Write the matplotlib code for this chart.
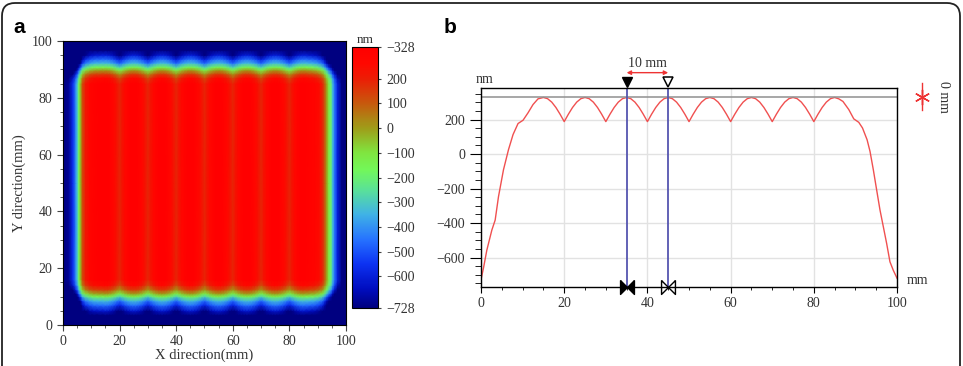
import numpy as np
import matplotlib.pyplot as plt
from matplotlib.colors import LinearSegmentedColormap
from matplotlib.ticker import MultipleLocator
from matplotlib.patches import FancyBboxPatch

plt.rcParams['font.family'] = ['Liberation Serif', 'DejaVu Serif']

# line profile along X (panel b)
profile_mm = [0, 0.6, 1.4, 2.6, 3.4, 4.2, 5.4, 6.6, 7.7, 8.9, 10.1, 11.3, 12.5, 13.7,
              15, 16, 17, 18, 19, 20, 21, 22, 23, 24,
              25, 26, 27, 28, 29, 30, 31, 32, 33, 34,
              35, 36, 37, 38, 39, 40, 41, 42, 43, 44,
              45, 46, 47, 48, 49, 50, 51, 52, 53, 54,
              55, 56, 57, 58, 59, 60, 61, 62, 63, 64,
              65, 66, 67, 68, 69, 70, 71, 72, 73, 74,
              75, 76, 77, 78, 79, 80, 81, 82, 83, 84,
              85, 86, 87, 88.4, 89.6, 90.8, 91.7, 92.8, 93.5, 94.3, 95.1, 95.9,
              96.7, 97.5, 98.3, 99.1, 100]
profile_nm = [-728, -660, -557, -441, -383, -247, -91, 25, 113, 177, 196, 239, 287, 320,
              328, 321, 301, 270, 231, 188, 231, 270, 301, 321,
              328, 321, 301, 270, 231, 188, 231, 270, 301, 321,
              328, 321, 301, 270, 231, 188, 231, 270, 301, 321,
              328, 321, 301, 270, 231, 188, 231, 270, 301, 321,
              328, 321, 301, 270, 231, 188, 231, 270, 301, 321,
              328, 321, 301, 270, 231, 188, 231, 270, 301, 321,
              328, 321, 301, 270, 231, 188, 231, 270, 301, 321,
              328, 320, 305, 258, 204, 184, 151, 83, 16, -91, -208, -324,
              -421, -518, -625, -674, -720]

# map edges along X (panel a)
map_left_mm = [0, 2, 3.5, 4.5, 5.0, 5.5, 6.0, 6.5, 7.0, 8.0, 9.5, 11, 13]
map_left_nm = [-760, -700, -560, -420, -330, -200, -80, 30, 130, 220, 280, 310, 320]
map_right_mm = [87, 89, 90.5, 91.7, 92.5, 93.2, 94.0, 94.7, 95.3, 96.0, 97.0, 98.5, 100]
map_right_nm = [310, 290, 250, 190, 100, 0, -120, -200, -330, -450, -600, -720, -760]

# height along Y through a stripe centre (panel a)
scan_y_mm = [0, 2, 3.5, 5, 7, 8.5, 10, 11, 12.4, 14, 16, 50, 85, 87, 88.4, 89.8, 90.8,
             92.2, 93.5, 95, 96.8, 98, 100]
scan_y_nm = [-800, -760, -720, -620, -450, -330, -150, 0, 150, 260, 328, 328, 328, 260,
             150, 0, -150, -330, -450, -600, -720, -760, -800]

cbar_ticks = [328, 200, 100, 0, -100, -200, -300, -400, -500, -600, -728]
cbar_labels = ['\u2212328', '200', '100', '0', '\u2212100', '\u2212200', '\u2212300',
               '\u2212400', '\u2212500', '\u2212600', '\u2212728']

vmin, vmax = -728, 328
stops = [(-728, (0.0, 0.0, 0.50)), (-650, (0.0, 0.05, 0.75)), (-550, (0.05, 0.2, 0.95)),
         (-450, (0.15, 0.45, 1.0)), (-350, (0.25, 0.7, 0.9)), (-250, (0.35, 0.88, 0.6)),
         (-170, (0.45, 0.97, 0.35)), (-100, (0.5, 0.9, 0.25)), (0, (0.62, 0.62, 0.1)),
         (100, (0.78, 0.35, 0.05)), (200, (0.92, 0.12, 0.02)), (260, (1.0, 0.03, 0.0)),
         (328, (1.0, 0.0, 0.0))]
cmap = LinearSegmentedColormap.from_list(
    'surf', [((v - vmin) / (vmax - vmin), c) for v, c in stops])

txt = '#333333'
fig = plt.figure(figsize=(9.63, 3.66), dpi=100)
fig.patches.append(FancyBboxPatch((0.02, -0.5), 9.58, 4.13,
                                  boxstyle='round,pad=0,rounding_size=0.13',
                                  transform=fig.dpi_scale_trans, fill=False,
                                  lw=1.3, ec='#222222'))
fig.text(0.014, 0.91, 'a', fontsize=15, fontweight='bold', family='Liberation Sans')
fig.text(0.461, 0.91, 'b', fontsize=15, fontweight='bold', family='Liberation Sans')

# ---- panel a
# middle of the map follows the scallops of the profile, edges from the map itself
i0, i1 = profile_mm.index(15), profile_mm.index(85)
map_x_mm = map_left_mm + profile_mm[i0:i1 + 1] + map_right_mm
map_x_nm = map_left_nm + profile_nm[i0:i1 + 1] + map_right_nm

ax1 = fig.add_axes([0.0654, 0.112, 0.2939, 0.776])
Z = np.array(map_x_nm)[None, :] + np.array(scan_y_nm)[:, None] - vmax
Z = np.clip(Z, vmin, vmax)
mesh = ax1.pcolormesh(map_x_mm, scan_y_mm, Z, shading='gouraud', cmap=cmap,
                      vmin=vmin, vmax=vmax)
ax1.set_xlim(0, 100)
ax1.set_ylim(0, 100)
ax1.xaxis.set_major_locator(MultipleLocator(20))
ax1.yaxis.set_major_locator(MultipleLocator(20))
ax1.xaxis.set_minor_locator(MultipleLocator(5))
ax1.yaxis.set_minor_locator(MultipleLocator(5))
ax1.tick_params(which='both', direction='out', labelsize=10, labelcolor=txt, color='#444')
ax1.tick_params(which='major', length=4)
ax1.tick_params(which='minor', length=2.5)
ax1.set_xlabel('X direction(mm)', fontsize=10.5, color=txt, labelpad=0)
ax1.set_ylabel('Y direction(mm)', fontsize=10.5, color=txt, labelpad=4)

cax = fig.add_axes([0.3655, 0.1585, 0.027, 0.713])
cb = fig.colorbar(mesh, cax=cax)
cb.set_ticks(cbar_ticks)
cb.set_ticklabels(cbar_labels)
cb.outline.set_linewidth(0.8)
cax.tick_params(labelsize=10, labelcolor=txt, length=2.5, color='#444')
cax.set_title('nm', fontsize=9.5, color=txt, pad=3)

# ---- panel b
ax2 = fig.add_axes([0.4995, 0.2158, 0.432, 0.5438])
ax2.plot(profile_mm, profile_nm, color='#f05050', lw=1)
ax2.axhline(vmax, color='#909090', lw=1.1)
ax2.set_xlim(0, 100)
ax2.set_ylim(-771, 383)
ax2.xaxis.set_major_locator(MultipleLocator(20))
ax2.xaxis.set_minor_locator(MultipleLocator(5))
ax2.yaxis.set_major_locator(MultipleLocator(200))
ax2.yaxis.set_minor_locator(MultipleLocator(50))
ax2.grid(which='major', color='#e2e2e2', lw=1)
ax2.set_axisbelow(True)
ax2.tick_params(which='both', direction='out', labelsize=10, labelcolor=txt)
ax2.tick_params(axis='y', which='major', length=8)
ax2.tick_params(axis='y', which='minor', length=4)
ax2.tick_params(axis='x', which='major', length=4)
ax2.tick_params(axis='x', which='minor', length=2.5)
for s in ax2.spines.values():
    s.set_linewidth(1)

# cursors
cursor_mm = [35, 45]
ax2.axvline(cursor_mm[0], color='#5555b0', lw=1.3)
ax2.axvline(cursor_mm[1], color='#5555b0', lw=1.3)
tb = ax2.get_xaxis_transform()
ax2.plot(cursor_mm[0], 1.03, marker='v', ms=7, color='black', transform=tb, clip_on=False)
ax2.plot(cursor_mm[1], 1.03, marker='v', ms=7, mfc='white', mec='black', mew=1.1,
         transform=tb, clip_on=False)
right_tri = [(-1, 1), (0, 0), (-1, -1), (-1, 1)]
left_tri = [(1, 1), (0, 0), (1, -1), (1, 1)]
ax2.plot(cursor_mm[0], 0, marker=right_tri, ms=10, color='black', transform=tb, clip_on=False)
ax2.plot(cursor_mm[0], 0, marker=left_tri, ms=10, color='black', transform=tb, clip_on=False)
ax2.plot(cursor_mm[1], 0, marker=right_tri, ms=10, mfc='white', mec='black', mew=1,
         transform=tb, clip_on=False)
ax2.plot(cursor_mm[1], 0, marker=left_tri, ms=10, mfc='white', mec='black', mew=1,
         transform=tb, clip_on=False)
ax2.annotate('', xy=(cursor_mm[0], 1.077), xytext=(cursor_mm[1], 1.077), xycoords=tb,
             textcoords=tb, arrowprops=dict(arrowstyle='<|-|>', color='#ee3333', lw=1,
                                            mutation_scale=6, shrinkA=0, shrinkB=0))
ax2.text(40, 1.125, '10 mm', transform=tb, ha='center', va='center', fontsize=10, color=txt)
ax2.text(0.8, 1.045, 'nm', transform=tb, ha='center', va='center', fontsize=10, color=txt)
ax2.text(104.8, 0.035, 'mm', transform=tb, ha='center', va='center', fontsize=10, color=txt)

# scale marker on the right
ax2.plot([106, 106], [0.889, 1.025], color='#ee3333', lw=1, transform=tb, clip_on=False)
ax2.plot(106, 0.953, marker=(6, 2, 0), ms=11, color='#ee3333', mew=1, transform=tb,
         clip_on=False)
ax2.text(111.2, 0.955, '0 mm', transform=tb, ha='center', va='center', fontsize=10,
         color=txt, rotation=-90)

fig.savefig('out.png', dpi=100)
